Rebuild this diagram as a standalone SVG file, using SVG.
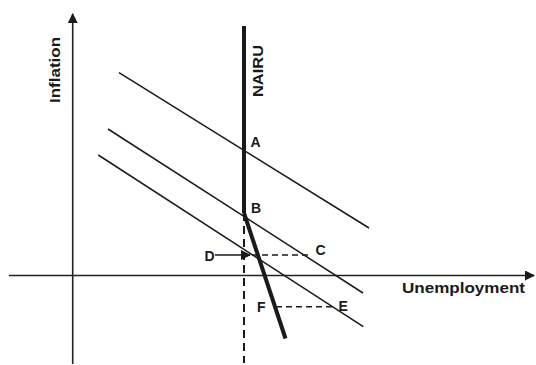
<svg xmlns="http://www.w3.org/2000/svg" width="536" height="365" viewBox="0 0 536 365">
<style>
.ax{stroke:#222;stroke-width:1.6;fill:none}
.ln{stroke:#1a1a1a;stroke-width:1.5;fill:none}
.thick{stroke:#1a1a1a;stroke-width:4;fill:none}
.dash{stroke:#1a1a1a;stroke-width:1.5;stroke-dasharray:6 4;fill:none}
.vdash{stroke:#1a1a1a;stroke-width:2;stroke-dasharray:8 5;fill:none}
text{font-family:"Liberation Sans",Arial,sans-serif;font-weight:bold;fill:#1a1a1a}
.lbl{font-size:14px}
</style>
<defs>
<marker id="arr" markerWidth="10" markerHeight="10" refX="9" refY="5" orient="auto" markerUnits="userSpaceOnUse">
<path d="M0,0 L10,5 L0,10 Z" fill="#1a1a1a"/>
</marker>
</defs>
<rect width="536" height="365" fill="#fff"/>
<g id="axes">
<line class="ax" x1="72.7" y1="364" x2="72.7" y2="14" marker-end="url(#arr)"/>
<line class="ax" x1="9" y1="275.5" x2="534" y2="275.5" marker-end="url(#arr)"/>
<text id="inflation" class="lbl" transform="translate(59.5,103) rotate(-90)" textLength="66" lengthAdjust="spacingAndGlyphs">Inflation</text>
<text id="unemployment" class="lbl" x="402" y="293" textLength="123" lengthAdjust="spacingAndGlyphs">Unemployment</text>
</g>
<g id="connectors">
<line class="ln" x1="119" y1="72.7" x2="369" y2="228"/>
<line class="ln" x1="108" y1="129" x2="363" y2="293"/>
<line class="ln" x1="98.3" y1="155" x2="363.3" y2="326.7"/>
<line class="vdash" x1="244" y1="213" x2="244" y2="363"/>
<line class="dash" x1="252" y1="255" x2="310" y2="255"/>
<line class="dash" x1="276" y1="306.7" x2="334" y2="306.7"/>
<line class="ln" x1="215" y1="255" x2="250" y2="255" marker-end="url(#arr)"/>
</g>
<g id="nairu">
<line class="thick" x1="244" y1="26" x2="244" y2="213"/>
<line class="thick" x1="244" y1="213" x2="285.5" y2="338.5"/>
<text class="lbl" transform="translate(263,97) rotate(-90)" textLength="52" lengthAdjust="spacingAndGlyphs">NAIRU</text>
</g>
<g id="A"><text class="lbl" x="250.5" y="147">A</text></g>
<g id="B"><text class="lbl" x="251" y="213">B</text></g>
<g id="C"><text class="lbl" x="315.5" y="255">C</text></g>
<g id="D"><text class="lbl" x="204.5" y="261">D</text></g>
<g id="E"><text class="lbl" x="338.5" y="311">E</text></g>
<g id="F"><text class="lbl" x="257" y="312">F</text></g>
</svg>
